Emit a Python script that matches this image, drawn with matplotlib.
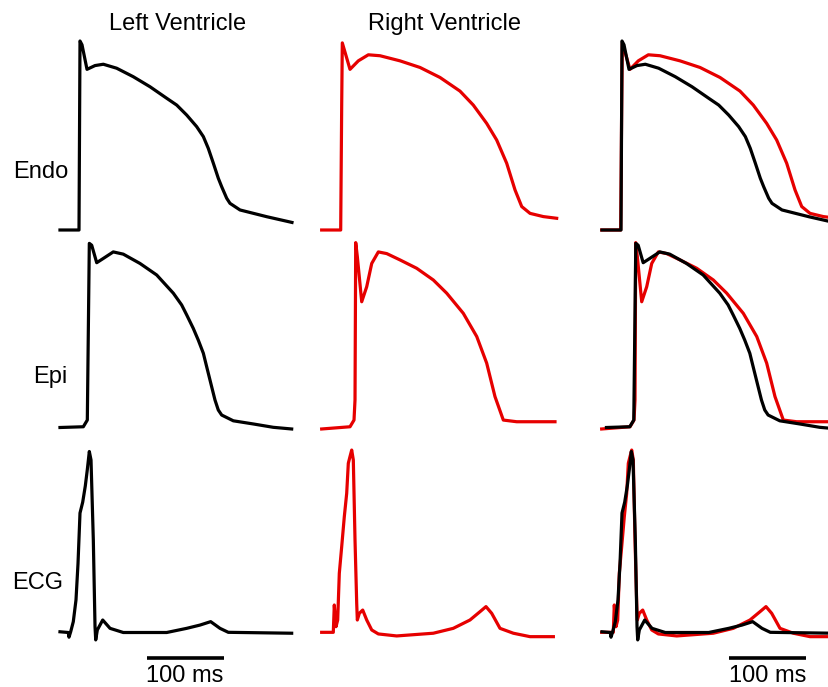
#!/usr/bin/env python3
import matplotlib.pyplot as plt

# time in ms from the column's reference upstroke, amplitude normalised (0 = rest, 1 = peak)
LV_ENDO_T = [-26, -1.3, 0, 2.6, 9.1, 19.5, 30.3, 47.6, 69.2, 90.9, 112.6, 125.6, 138.6,
             151.5, 160.2, 166.6, 173.2, 179.6, 184, 190.5, 194.8, 207.8, 242.9, 275.3]
LV_ENDO_V = [0, 0, 1.0, 0.98, 0.85, 0.87, 0.877, 0.856, 0.811, 0.758, 0.697, 0.661, 0.608,
             0.547, 0.494, 0.432, 0.353, 0.274, 0.229, 0.168, 0.141, 0.106, 0.07, 0.04]

RV_ENDO_T = [-26.4, -1.7, -0.4, 0.4, 10.4, 21.2, 34.2, 49.4, 75.3, 101.3, 127.3, 153.2,
             170.5, 187.9, 200.9, 213.9, 224.7, 233.4, 244.2, 261.4, 278.8]
RV_ENDO_V = [0, 0, 0.66, 0.99, 0.85, 0.895, 0.927, 0.922, 0.895, 0.86, 0.807, 0.735,
             0.661, 0.564, 0.476, 0.353, 0.212, 0.124, 0.088, 0.071, 0.062]

LV_EPI_T = [-26, 4.3, 9.5, 12.1, 15.2, 21.7, 30.3, 43.2, 56.2, 77.9, 99.6, 121.2, 132,
            138.6, 147.1, 153.6, 160.2, 164.5, 171, 175.3, 179.6, 184, 199.1, 225.1,
            251, 274.9]
LV_EPI_V = [0, 0.004, 0.04, 0.99, 0.98, 0.886, 0.909, 0.944, 0.932, 0.882, 0.82, 0.722,
            0.659, 0.605, 0.533, 0.47, 0.399, 0.327, 0.219, 0.148, 0.094, 0.067, 0.036,
            0.019, 0.001, -0.008]

RV_EPI_T = [-26.4, 10.4, 15.6, 16.9, 17.8, 19.9, 25.6, 32.1, 38.6, 47.2, 58.1, 75.3, 97,
            118.6, 136, 157.5, 175, 187.9, 198.7, 209.5, 226.9, 276.6]
RV_EPI_V = [-0.008, 0.004, 0.04, 0.148, 0.994, 0.919, 0.676, 0.757, 0.882, 0.944, 0.935,
            0.901, 0.856, 0.793, 0.722, 0.614, 0.489, 0.346, 0.166, 0.04, 0.031, 0.031]

LV_ECG_T = [-26, -15.2, -14.3, -12.1, -8.7, -5.2, -2.6, 0, 3.5, 6.9, 9.5, 12.1, 14.3,
            17.3, 19.5, 20.4, 22.5, 29.5, 39, 56.2, 112.6, 138.6, 155.8, 169.7, 181.8,
            192.6, 274.9]
LV_ECG_V = [0.004, 0, -0.026, 0.004, 0.06, 0.18, 0.38, 0.66, 0.72, 0.81, 0.9, 1.0,
            0.953, 0.511, 0.033, -0.041, 0.014, 0.069, 0.023, 0, 0, 0.023, 0.041, 0.06,
            0.023, 0.001, -0.004]

RV_ECG_T = [-26.4, -11.3, -10, -7.8, -5.6, -3.5, -0.4, 3, 6.1, 8.2, 10.4, 12.6, 14.7,
            16.9, 19.1, 19.9, 22.5, 26.9, 32.1, 38.6, 47.2, 71, 118.6, 144.5, 166.2,
            179.2, 187, 194.4, 205.2, 222.5, 244.2, 274.5]
RV_ECG_V = [0.001, 0.001, 0.152, 0.032, 0.069, 0.327, 0.474, 0.64, 0.769, 0.935, 0.972,
            1.008, 0.953, 0.511, 0.161, 0.069, 0.106, 0.124, 0.069, 0.014, -0.008, -0.019,
            -0.004, 0.023, 0.069, 0.115, 0.143, 0.106, 0.023, -0.004, -0.023, -0.023]

COLUMNS = ["Left Ventricle", "Right Ventricle"]
ROWS = ["Endo", "Epi", "ECG"]
SCALE_MS = 100

LV = [(LV_ENDO_T, LV_ENDO_V), (LV_EPI_T, LV_EPI_V), (LV_ECG_T, LV_ECG_V)]
RV = [(RV_ENDO_T, RV_ENDO_V), (RV_EPI_T, RV_EPI_V), (RV_ECG_T, RV_ECG_V)]

W, H = 829, 687
PX_MS = 0.77
RED = "#e60000"
LW = 2.3
plt.rcParams["font.family"] = ["Liberation Sans", "DejaVu Sans"]

fig = plt.figure(figsize=(W / 100, H / 100), dpi=100)

col_x0 = [80, 342, 622]                       # pixel of t = 0 in each column
row_geom = [(230, 189), (427.5, 186), (632.5, 181)]  # baseline pixel, pixels per unit
T0, T1 = -35, 290
V0, V1 = -0.15, 1.1
lv_shift_right = [0, 5.8, 0]                  # LV epi sits a little later in the overlay


def make_ax(x0, base, scale):
    left = x0 + T0 * PX_MS
    width = (T1 - T0) * PX_MS
    top = base - V1 * scale
    bottom = base - V0 * scale
    ax = fig.add_axes([left / W, 1 - bottom / H, width / W, (bottom - top) / H])
    ax.set_xlim(T0, T1)
    ax.set_ylim(V0, V1)
    ax.axis("off")
    return ax


axes = []
for r, (base, scale) in enumerate(row_geom):
    row = []
    for c in range(3):
        ax = make_ax(col_x0[c], base, scale)
        row.append(ax)
    axes.append(row)

for r in range(3):
    lt, lv = LV[r]
    rt, rv = RV[r]
    axes[r][0].plot(lt, lv, color="black", lw=LW, solid_joinstyle="round")
    axes[r][1].plot(rt, rv, color=RED, lw=LW, solid_joinstyle="round")
    axes[r][2].plot(rt, rv, color=RED, lw=LW, solid_joinstyle="round")
    axes[r][2].plot([t + lv_shift_right[r] for t in lt], lv, color="black", lw=LW,
                    solid_joinstyle="round")

# scale bars under the ECG row
for c, start in [(0, 86.5), (2, 139)]:
    ax = axes[2][c]
    ax.plot([start, start + SCALE_MS], [-0.141, -0.141], color="black", lw=2.6,
            solid_capstyle="butt", clip_on=False)
    ax.text(start + SCALE_MS / 2, -0.18, f"{SCALE_MS} ms", ha="center", va="top",
            fontsize=17, clip_on=False)

fig.text(177.5 / W, 1 - 24 / H, COLUMNS[0], ha="center", va="center", fontsize=17)
fig.text(445 / W, 1 - 24 / H, COLUMNS[1], ha="center", va="center", fontsize=17)

for name, x, y in zip(ROWS, [68, 67, 63], [172, 377, 583]):
    fig.text(x / W, 1 - y / H, name, ha="right", va="center", fontsize=17)

fig.savefig("out.png", dpi=100)
